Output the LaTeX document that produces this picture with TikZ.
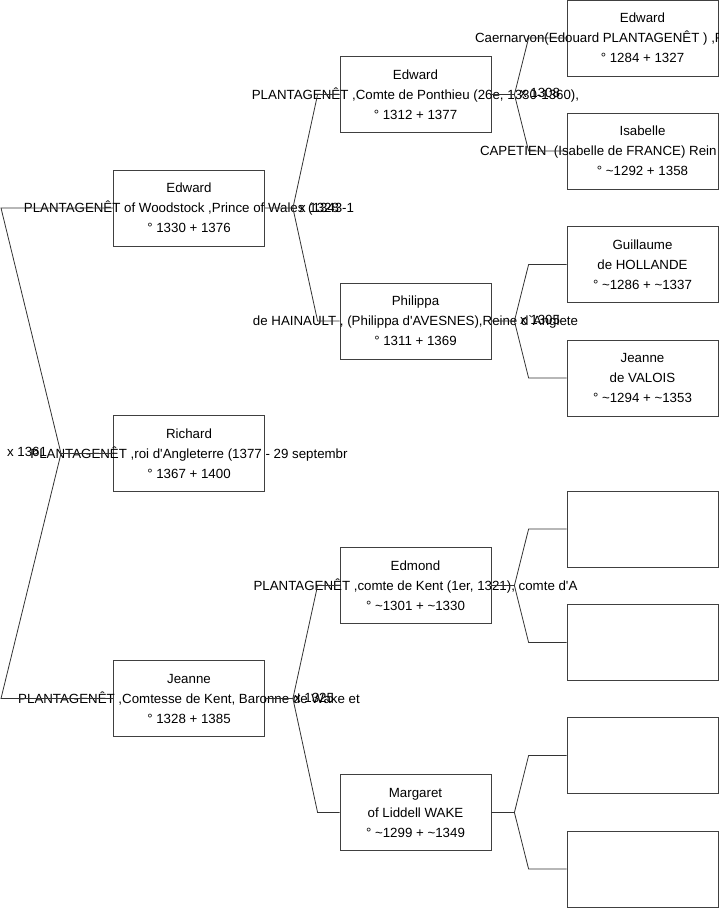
\documentclass[tikz,border=0pt]{standalone}
\usepackage{fontspec}
\newfontfamily\arialfont{Liberation Sans}
\newcommand\ca{\textasciitilde}

\begin{document}
\begin{tikzpicture}[x=1pt,y=-1pt,
    font=\arialfont\fontsize{13.3}{20}\selectfont,
    box/.style={draw=black!75,line width=0.8pt,minimum width=151pt,minimum height=76pt,inner sep=0pt},
    txt/.style={align=center,inner sep=0pt},
    link/.style={draw=black!80,line width=0.8pt}]
  \useasboundingbox (0,0) rectangle (719,908);

  % First generation
  \node[box] (edw) at (189,208) {};
  \node[txt] (edwt) at (edw) {Edward\\PLANTAGENÊT of Woodstock ,Prince of Wales (1343-1\\° 1330 + 1376};
  \node[box] (ric) at (189,453.5) {};
  \node[txt] (rict) at (ric) {Richard\\PLANTAGENÊT ,roi d'Angleterre (1377 - 29 septembr\\° 1367 + 1400};
  \node[box] (jea) at (189,698.5) {};
  \node[txt] (jeat) at (jea) {Jeanne\\PLANTAGENÊT ,Comtesse de Kent, Baronne de Wake et\\° 1328 + 1385};

  % Second generation
  \node[box] (ed3) at (415.5,94.5) {};
  \node[txt] (ed3t) at (ed3) {Edward\\PLANTAGENÊT ,Comte de Ponthieu (26e, 1330-1360),\\° 1312 + 1377};
  \node[box] (phi) at (415.5,321) {};
  \node[txt] (phit) at (phi) {Philippa\\de HAINAULT , (Philippa d'AVESNES),Reine d`Anglete\\° 1311 + 1369};
  \node[box] (edm) at (415.5,585.5) {};
  \node[txt] (edmt) at (edm) {Edmond\\PLANTAGENÊT ,comte de Kent (1er, 1321), comte d'A\\° \ca1301 + \ca1330};
  \node[box] (mar) at (415.5,812.5) {};
  \node[txt] (mart) at (mar) {Margaret\\of Liddell WAKE\\° \ca1299 + \ca1349};

  % Third generation
  \node[box] (ed2) at (642.5,38) {};
  \node[txt] (ed2t) at (ed2) {Edward\\\makebox[0pt][l]{\hspace{-167.5pt}Caernarvon(Edouard PLANTAGENÊT ) ,P}\\° 1284 + 1327};
  \node[box] (isa) at (642.5,151) {};
  \node[txt] (isat) at (isa) {Isabelle\\\makebox[0pt][l]{\hspace{-162.5pt}CAPETIEN\ \ (Isabelle de FRANCE) Rein}\\° \ca1292 + 1358};
  \node[box] (gui) at (642.5,264.5) {};
  \node[txt] (guit) at (gui) {Guillaume\\de HOLLANDE\\° \ca1286 + \ca1337};
  \node[box] (jev) at (642.5,378) {};
  \node[txt] (jevt) at (jev) {Jeanne\\de VALOIS\\° \ca1294 + \ca1353};
  \foreach \i/\y in {1/529,2/642.5,3/755.5,4/869}
    \node[box] (e\i) at (642.5,\y) {};

  % Links to the left
  \coordinate (rtop) at (1,208);
  \coordinate (rfork) at (61,453.5);
  \coordinate (rbot) at (1,698.5);
  \draw[link] (edw.west) -- (rtop) -- (rfork) -- (rbot) -- (jea.west);
  \draw[link] (rfork) -- (ric.west);

  % Parents of Edward and Jeanne
  \draw[link] (edw.east) -- ++(28,0) coordinate (fedw) -- ([xshift=-22pt]ed3.west) -- (ed3.west);
  \draw[link] (fedw) -- ([xshift=-22pt]phi.west) -- (phi.west);
  \draw[link] (jea.east) -- ++(28,0) coordinate (fjea) -- ([xshift=-22pt]edm.west) -- (edm.west);
  \draw[link] (fjea) -- ([xshift=-22pt]mar.west) -- (mar.west);

  % Grandparents
  \draw[link] (ed3.east) -- ++(23,0) coordinate (fed3) -- ([xshift=-38pt]ed2.west) -- (ed2.west);
  \draw[link] (fed3) -- ([xshift=-38pt]isa.west) -- (isa.west);
  \draw[link] (phi.east) -- ++(23,0) coordinate (fphi) -- ([xshift=-38pt]gui.west) -- (gui.west);
  \draw[link] (fphi) -- ([xshift=-38pt]jev.west) -- (jev.west);
  \draw[link] (edm.east) -- ++(23,0) coordinate (fedm) -- ([xshift=-38pt]e1.west) -- (e1.west);
  \draw[link] (fedm) -- ([xshift=-38pt]e2.west) -- (e2.west);
  \draw[link] (mar.east) -- ++(23,0) coordinate (fmar) -- ([xshift=-38pt]e3.west) -- (e3.west);
  \draw[link] (fmar) -- ([xshift=-38pt]e4.west) -- (e4.west);

  % Marriages
  \node[txt] (m1) at (27,452) {x 1361};
  \node[txt] (m2) at (319,208) {x 1328};
  \node[txt] (m3) at (314,698) {x 1325};
  \node[txt] (m4) at (540,93) {x 1308};
  \node[txt] (m5) at (540,320) {x 1305};
\end{tikzpicture}
\end{document}
